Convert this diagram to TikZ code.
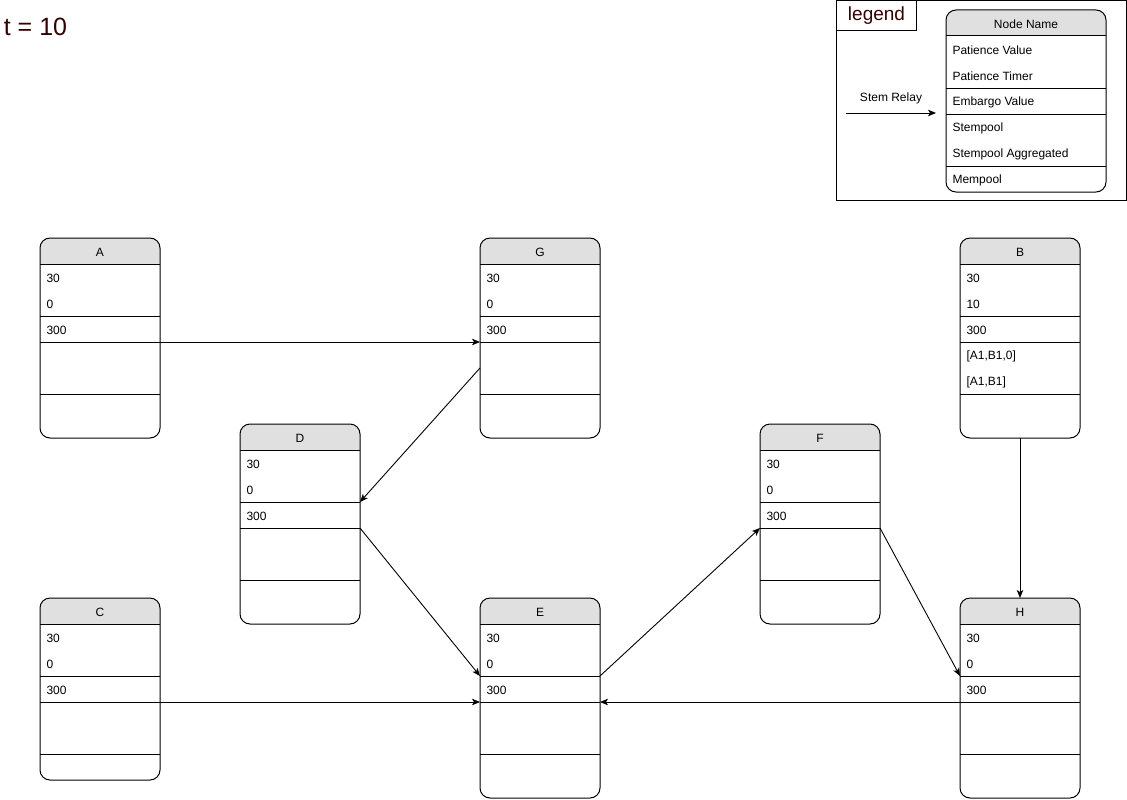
\documentclass[tikz,border=0pt]{standalone}
\usepackage{fontspec}
\setmainfont{Liberation Sans}
\usetikzlibrary{calc,arrows.meta}
\definecolor{ink}{HTML}{330000}
\definecolor{headgray}{HTML}{E0E0E0}

\tikzset{
  peer/.style={rectangle,minimum width=120pt,minimum height=200pt,inner sep=0pt,outer sep=0pt,anchor=north west},
  cell/.style={anchor=west,inner sep=0pt},
  relay/.style={-{Stealth[length=8pt,width=6.5pt,inset=2pt]},line width=0.9pt},
}

% #1 size, #2 name, #3 top left, #4 header, #5-#9 rows
\newcommand{\peerbox}[9]{%
  \node[peer,#1] (#2) at #3 {};
  \begin{scope}
    \clip[rounded corners=10pt] (#2.north west) rectangle (#2.south east);
    \fill[headgray] (#2.north west) rectangle ($(#2.north east)+(0,26)$);
  \end{scope}
  \draw[rounded corners=10pt] (#2.north west) rectangle (#2.south east);
  \foreach \dy in {26,78,104,156}
    \draw ($(#2.north west)+(0,\dy)$) -- ($(#2.north east)+(0,\dy)$);
  \coordinate (#2-l1) at ($(#2.north west)+(0,78)$);
  \coordinate (#2-r1) at ($(#2.north east)+(0,78)$);
  \coordinate (#2-l2) at ($(#2.north west)+(0,104)$);
  \coordinate (#2-r2) at ($(#2.north east)+(0,104)$);
  \coordinate (#2-l3) at ($(#2.north west)+(0,130)$);
  \node at ($(#2.north)+(0,14)$) {#4};
  \node[cell] at ($(#2.north west)+(6,40)$) {#5};
  \node[cell] at ($(#2.north west)+(6,66)$) {#6};
  \node[cell] at ($(#2.north west)+(6,92)$) {#7};
  \node[cell] at ($(#2.north west)+(6,118)$) {#8};
  \node[cell] at ($(#2.north west)+(6,144)$) {#9};
}

\begin{document}
\begin{tikzpicture}[x=1pt,y=-1pt,line width=1pt,font=\fontsize{12}{14}\selectfont]
\useasboundingbox (0,0) rectangle (1127,800);

\node[anchor=west,text=ink,font=\fontsize{25}{30}\selectfont] (title) at (0,27) {t = 10};

% legend
\node[draw,anchor=north west,minimum width=290pt,minimum height=200pt,inner sep=0pt,outer sep=0pt] (legend) at (836.5,0.5) {};
\node[draw,anchor=north west,minimum width=80pt,minimum height=30pt,inner sep=0pt,outer sep=0pt,
  text=ink,font=\fontsize{19}{22}\selectfont] (legtab) at (836.5,0.5) {legend};
\peerbox{minimum width=160pt,minimum height=182pt}{key}{(946,10)}{Node Name}
  {Patience Value}{Patience Timer}{Embargo Value}{Stempool}{Stempool Aggregated}
\node[cell] at ($(key.north west)+(6,170)$) {Mempool};
\coordinate (relayin) at (846,113);
\coordinate (relayout) at (936,113);
\draw[relay] (relayin) -- node[midway,yshift=15pt] {Stem Relay} (relayout);

% peers
\peerbox{}{A}{(40,238)}{A}{30}{0}{300}{}{}
\peerbox{}{G}{(480,238)}{G}{30}{0}{300}{}{}
\peerbox{}{B}{(960,238)}{B}{30}{10}{300}{[A1,B1,0]}{[A1,B1]}
\peerbox{}{D}{(240,424)}{D}{30}{0}{300}{}{}
\peerbox{}{F}{(760,424)}{F}{30}{0}{300}{}{}
\peerbox{minimum height=182pt}{C}{(40,598)}{C}{30}{0}{300}{}{}
\peerbox{}{E}{(480,598)}{E}{30}{0}{300}{}{}
\peerbox{}{H}{(960,598)}{H}{30}{0}{300}{}{}

% stem relays
\draw[relay] (A-r2) -- (G-l2);
\draw[relay] (G-l3) -- (D-r1);
\draw[relay] (D-r2) -- (E-l1);
\draw[relay] (C-r2) -- (E-l2);
\draw[relay] (E-r1) -- (F-l2);
\draw[relay] (F-r2) -- (H-l1);
\draw[relay] (H-l2) -- (E-r2);
\draw[relay] (B.south) -- (H.north);
\end{tikzpicture}
\end{document}
